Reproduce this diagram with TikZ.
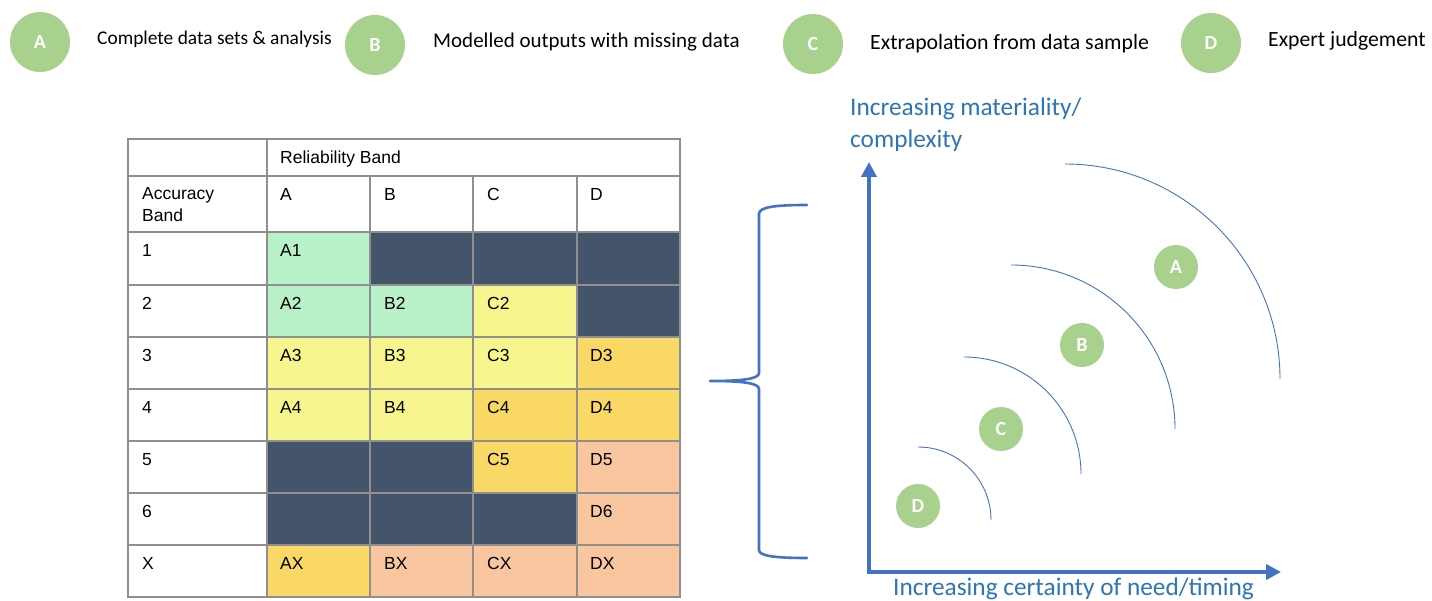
\documentclass[tikz,border=0pt]{standalone}
\usepackage{fontspec}
\setmainfont{Liberation Sans}
\newfontfamily\calib{Carlito}
\usetikzlibrary{arrows.meta}
\definecolor{lgreen}{HTML}{A9D18E}
\definecolor{cgreen}{HTML}{B9F2C9}
\definecolor{cyellow}{HTML}{F7F68E}
\definecolor{corange}{HTML}{F9D866}
\definecolor{cpeach}{HTML}{F9C6A0}
\definecolor{cdark}{HTML}{44546A}
\definecolor{gridgray}{HTML}{8F8F8F}
\definecolor{axisblue}{HTML}{4472C4}
\definecolor{labelblue}{HTML}{2E75B6}
\begin{document}
\begin{tikzpicture}[x=1pt,y=-1pt,
  legcirc/.style={circle,fill=lgreen,minimum size=60pt,inner sep=0pt,text=white,font=\calib\bfseries\fontsize{20}{24}\selectfont},
  plotcirc/.style={circle,fill=lgreen,minimum size=44pt,inner sep=0pt,text=white,font=\calib\bfseries\fontsize{20}{24}\selectfont},
  legtext/.style={anchor=base west,inner sep=0pt,text=black},
  celltext/.style={anchor=base west,inner sep=0pt,text=black,font=\fontsize{17.5}{21}\selectfont},
  gridline/.style={draw=gridgray,line width=2pt},
  axislabel/.style={anchor=base west,inner sep=0pt,text=labelblue,font=\calib\fontsize{25.3}{30}\selectfont},
  arcline/.style={draw=axisblue,line width=0.9pt},
  bracestyle/.style={draw=axisblue,line width=2.6pt,line cap=round,line join=round},
  axisstyle/.style={draw=axisblue,line width=4.5pt,line join=miter,{Triangle[width=15pt,length=15pt]}-{Triangle[width=15pt,length=15pt]}}
]
\useasboundingbox (0,0) rectangle (1432,601);
\fill[white] (0,0) rectangle (1432,601);

% ---------- legend ----------
\node[legcirc] (lA) at (40,42) {A};
\node[legtext,font=\calib\fontsize{19.4}{23}\selectfont] (tA) at (97,45) {Complete data sets \& analysis};
\node[legcirc] (lB) at (375,45) {B};
\node[legtext,font=\calib\fontsize{21}{25}\selectfont] (tB) at (433,47.5) {Modelled outputs with missing data};
\node[legcirc] (lC) at (813,44) {C};
\node[legtext,font=\calib\fontsize{21.8}{26}\selectfont] (tC) at (870,49.5) {Extrapolation from data sample};
\node[legcirc] (lD) at (1211,43) {D};
\node[legtext,font=\calib\fontsize{21.7}{26}\selectfont] (tD) at (1268,47) {Expert judgement};

% ---------- table fills ----------
% row 1
\fill[cgreen]  (267,232) rectangle (370,285);
\fill[cdark]   (370,232) rectangle (680,285);
% row 2
\fill[cgreen]  (267,285) rectangle (473,337);
\fill[cyellow] (473,285) rectangle (577,337);
\fill[cdark]   (577,285) rectangle (680,337);
% row 3
\fill[cyellow] (267,337) rectangle (577,389);
\fill[corange] (577,337) rectangle (680,389);
% row 4
\fill[cyellow] (267,389) rectangle (473,441);
\fill[corange] (473,389) rectangle (680,441);
% row 5
\fill[cdark]   (267,441) rectangle (473,493);
\fill[corange] (473,441) rectangle (577,493);
\fill[cpeach]  (577,441) rectangle (680,493);
% row 6
\fill[cdark]   (267,493) rectangle (577,545);
\fill[cpeach]  (577,493) rectangle (680,545);
% row X
\fill[corange] (267,545) rectangle (370,597);
\fill[cpeach]  (370,545) rectangle (680,597);

% ---------- grid ----------
\foreach \yy in {139,176,232,285,337,389,441,493,545,597}
  \draw[gridline] (127,\yy) -- (681,\yy);
\foreach \xx in {128,267,680}
  \draw[gridline] (\xx,138) -- (\xx,598);
\foreach \xx in {370,473,577}
  \draw[gridline] (\xx,176) -- (\xx,598);

% ---------- table texts ----------
\node[celltext] (hRB) at (280,163.5) {Reliability Band};
\node[celltext] (hAcc) at (142,200) {Accuracy};
\node[celltext] (hBand) at (142,222) {Band};
\node[celltext] (hA) at (280,200.5) {A};
\node[celltext] (hB) at (384,200.5) {B};
\node[celltext] (hC) at (487,200.5) {C};
\node[celltext] (hD) at (590,200.5) {D};
\foreach \lab/\yy in {1/232,2/285,3/337,4/389,5/441,6/493,X/545}
  \node[celltext] (row\lab) at (142,\yy+24.5) {\lab};
\foreach \lab/\xx/\yy in {A1/280/232, A2/280/285, B2/384/285, C2/487/285,
  A3/280/337, B3/384/337, C3/487/337, D3/590/337,
  A4/280/389, B4/384/389, C4/487/389, D4/590/389,
  C5/487/441, D5/590/441, D6/590/493,
  AX/280/545, BX/384/545, CX/487/545, DX/590/545}
  \node[celltext] (c\lab) at (\xx,\yy+24.5) {\lab};

% ---------- brace ----------
\coordinate (brTop) at (807,205);
\coordinate (brTip) at (710,381);
\coordinate (brBot) at (807,558);
\draw[bracestyle] (brTop) .. controls (775,205) and (759,207) .. (759,214)
  -- (759,373) .. controls (759,379) and (742,381) .. (brTip)
  .. controls (742,381) and (759,383) .. (759,389)
  -- (759,550) .. controls (759,556) and (775,558) .. (brBot);

% ---------- axes ----------
\coordinate (ytip) at (869,162);
\coordinate (origin) at (869,572);
\coordinate (xtip) at (1281,572);
\draw[axisstyle] (ytip) -- (origin) -- (xtip);

\node[axislabel] (ylab1) at (850,116) {Increasing materiality/};
\node[axislabel] (ylab2) at (850,148) {complexity};
\node[axislabel] (xlab) at (893,595) {Increasing certainty of need/timing};

% ---------- arcs ----------
\coordinate (arcD) at (918,447);
\coordinate (arcC) at (964,357);
\coordinate (arcB) at (1011,265);
\coordinate (arcA) at (1065,164);
\draw[arcline] (arcD) arc[start angle=90,end angle=0,radius=73pt];
\draw[arcline] (arcC) arc[start angle=90,end angle=0,radius=117pt];
\draw[arcline] (arcB) arc[start angle=90,end angle=0,radius=164pt];
\draw[arcline] (arcA) arc[start angle=90,end angle=0,radius=215pt];

% ---------- plot circles ----------
\node[plotcirc] (pA) at (1176,267) {A};
\node[plotcirc] (pB) at (1082,345) {B};
\node[plotcirc] (pC) at (1001,429) {C};
\node[plotcirc] (pD) at (918,506) {D};
\end{tikzpicture}
\end{document}
